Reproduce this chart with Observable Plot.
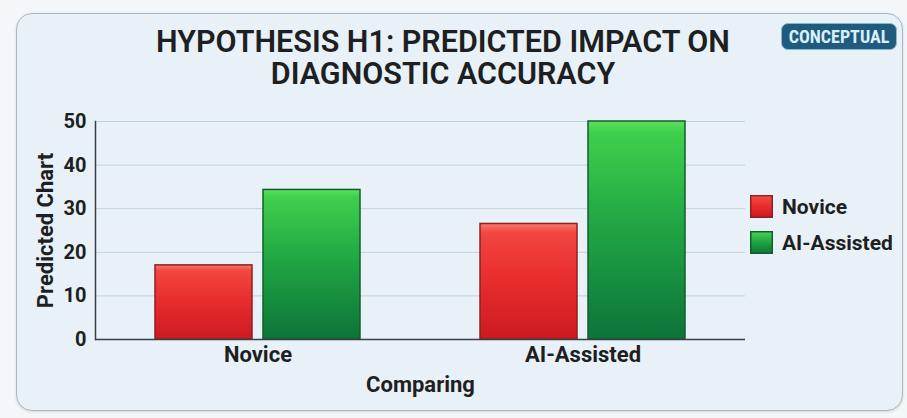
<!DOCTYPE html>
<html>
<head>
<meta charset="utf-8">
<script src="https://cdn.jsdelivr.net/npm/d3@7"></script>
<script src="https://cdn.jsdelivr.net/npm/@observablehq/plot@0.6"></script>
<style>
  html, body { margin: 0; padding: 0; }
  body { width: 907px; height: 418px; background: #f3f7fa; position: relative; overflow: hidden;
         font-family: Roboto, "Noto Sans", sans-serif; }
  #card { position: absolute; left: 16px; top: 13px; width: 885px; height: 396px;
          background: #e8f1f7; border: 1.5px solid #a9b7c1; border-radius: 16px;
          box-shadow: 0 1px 3px rgba(0,0,0,0.12); }
  #title { position: absolute; left: 93px; width: 700px; top: 26px; text-align: center;
           font-size: 30.5px; line-height: 32px; font-weight: 600; color: #1d1f22; }
  #badge { position: absolute; left: 781px; top: 23px; width: 116px; height: 27px; box-sizing: border-box;
           background: #1f5b7e; border: 1px solid #8fb3c8; border-radius: 7px; color: #d9f0fa;
           font-family: "Roboto Condensed", Roboto, sans-serif;
           font-size: 18px; font-weight: 700; line-height: 25px; text-align: center; }
  #chart { position: absolute; left: 0; top: 100px; }
  #legend { position: absolute; left: 750px; top: 195px; font-size: 21px; font-weight: 700; color: #1d1f22; }
  .item { display: flex; align-items: center; height: 23px; margin-bottom: 13px; }
  .item svg { margin-right: 9px; }
  #chart g[aria-label="y-axis label"], #chart g[aria-label="y-axis label"] text { font-size: 22px; }
  #chart g[aria-label="fx-axis label"], #chart g[aria-label="fx-axis label"] text { font-size: 22px; }
</style>
</head>
<body>
<div id="card"></div>
<div id="title">HYPOTHESIS H1: PREDICTED IMPACT ON<br>DIAGNOSTIC ACCURACY</div>
<div id="badge">CONCEPTUAL</div>
<div id="chart"></div>
<div id="legend"></div>
<svg width="0" height="0" style="position:absolute">
  <defs>
    <linearGradient id="gRed" x1="0" y1="0" x2="0" y2="1">
      <stop offset="0" stop-color="#f67a6c"/>
      <stop offset="0.08" stop-color="#f2463f"/>
      <stop offset="0.5" stop-color="#e82c2e"/>
      <stop offset="1" stop-color="#cc1a1f"/>
    </linearGradient>
    <linearGradient id="gGreen" x1="0" y1="0" x2="0" y2="1">
      <stop offset="0" stop-color="#5ee25e"/>
      <stop offset="0.05" stop-color="#3fd04c"/>
      <stop offset="0.45" stop-color="#22a844"/>
      <stop offset="1" stop-color="#0c7439"/>
    </linearGradient>
  </defs>
</svg>
<script>
const groups = ["Novice", "AI-Assisted"];
const series = ["Novice", "AI-Assisted"];
const noviceValues = [17, 26.5];
const aiAssistedValues = [34.3, 50];
const yTicks = [0, 10, 20, 30, 40, 50];
const seriesFills = ["url(#gRed)", "url(#gGreen)"];
const seriesStrokes = ["#8e2020", "#145c2e"];

const data = [];
groups.forEach((g, i) => {
  data.push({group: g, series: series[0], value: noviceValues[i]});
  data.push({group: g, series: series[1], value: aiAssistedValues[i]});
});

const plot = Plot.plot({
  width: 907,
  height: 310,
  marginLeft: 95,
  marginRight: 162,
  marginTop: 21,
  marginBottom: 71,
  style: {fontFamily: "Roboto, 'Noto Sans', sans-serif", fontWeight: 700, color: "#1d1f22", background: "transparent", overflow: "visible"},
  fx: {domain: groups, padding: 0, label: "Comparing"},
  x: {domain: series, paddingInner: 0.102, paddingOuter: 0.555, axis: null},
  y: {domain: [0, 50], label: "Predicted Chart"},
  marks: [
    Plot.gridY(yTicks.slice(1), {stroke: "#c3d1db", strokeOpacity: 1, strokeWidth: 1}),
    Plot.axisY(yTicks, {anchor: "left", tickSize: 0, tickPadding: 9, fontSize: 20, label: "Predicted Chart",
      labelAnchor: "center", labelArrow: "none", labelOffset: 58}),
    Plot.axisFx({anchor: "bottom", tickSize: 0, tickPadding: 7, fontSize: 22, label: "Comparing",
      labelAnchor: "center", labelArrow: "none", labelOffset: 52}),
    ...series.map((s, i) => Plot.barY(data.filter(d => d.series === s), {
      fx: "group", x: "series", y: "value",
      fill: seriesFills[i], stroke: seriesStrokes[i], strokeWidth: 1.5
    })),
    Plot.ruleY([0], {stroke: "#3a3f44", strokeWidth: 1.5}),
    Plot.frame({anchor: "left", facetAnchor: "left", stroke: "#3a3f44", strokeWidth: 1.5})
  ]
});
document.getElementById("chart").appendChild(plot);

const legend = document.getElementById("legend");
series.forEach((s, i) => {
  const item = document.createElement("div");
  item.className = "item";
  item.innerHTML = `<svg width="23" height="23"><rect x="0.75" y="0.75" width="21.5" height="21.5" fill="${seriesFills[i]}" stroke="${seriesStrokes[i]}" stroke-width="1.5"/></svg><span>${s}</span>`;
  legend.appendChild(item);
});
</script>
</body>
</html>
